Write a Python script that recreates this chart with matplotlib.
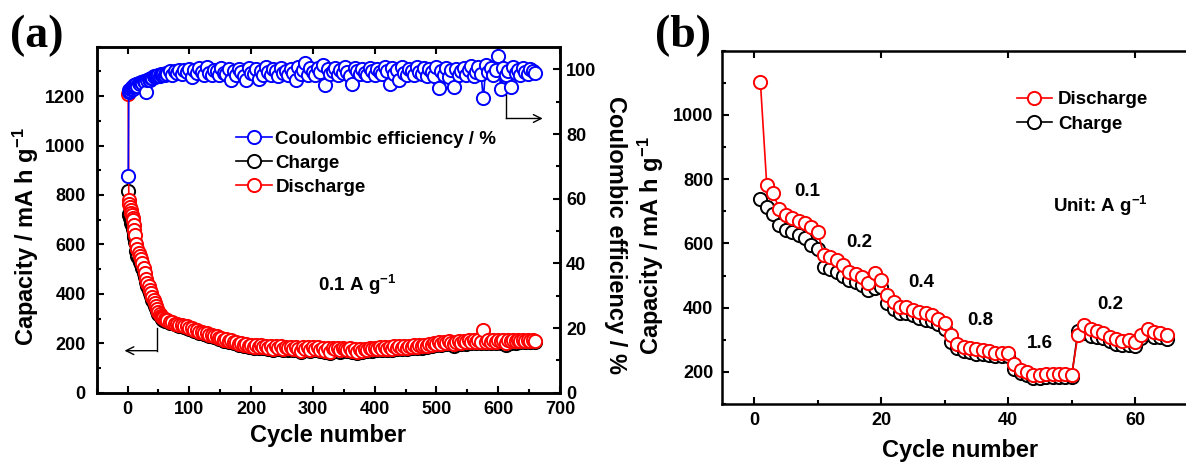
import matplotlib
matplotlib.use('Agg')
import matplotlib.pyplot as plt
from matplotlib.ticker import MultipleLocator
from matplotlib.lines import Line2D

plt.rcParams['font.family'] = ['Liberation Sans', 'DejaVu Sans']
plt.rcParams['font.weight'] = 'bold'
plt.rcParams['axes.labelweight'] = 'bold'
plt.rcParams['mathtext.default'] = 'regular'

# ---- panel (a): long cycling at 0.1 A/g ----
cycles_a = list(range(1, 13)) + list(range(14, 63, 2)) + list(range(64, 661, 4))

discharge_a = [1210, 780, 765, 752, 740, 728, 718, 708, 698, 680, 660, 640,
               600, 580, 565, 552, 540, 525, 505, 485, 462, 445, 430, 415, 402,
               388, 375, 362, 350, 338, 328, 320, 312, 306, 301, 297, 295,
               294, 288, 287, 280, 280, 274, 274, 268, 268, 262,
               262, 255, 254, 247, 247, 240, 240, 234, 234, 228,
               229, 221, 223, 215, 217, 209, 212, 204, 206, 198,
               202, 194, 198, 190, 195, 186, 193, 185, 192, 183,
               190, 182, 189, 178, 188, 180, 187, 176, 186, 179,
               186, 175, 185, 178, 170, 184, 176, 185, 172, 183,
               177, 184, 172, 182, 170, 181, 166, 180, 175, 182,
               171, 180, 176, 172, 181, 170, 178, 164, 176, 168,
               178, 172, 180, 175, 182, 176, 183, 178, 185, 177,
               186, 178, 187, 180, 188, 181, 189, 182, 190, 184,
               191, 185, 193, 187, 195, 190, 198, 193, 201, 196,
               204, 199, 206, 201, 208, 202, 196, 204, 210, 203,
               211, 204, 212, 205, 212, 206, 213, 207, 255, 205,
               213, 206, 214, 207, 214, 208, 214, 200, 215, 208,
               215, 208, 215, 209, 215, 209, 215, 209, 214, 210]

charge_a = [815, 725, 718, 705, 698, 688, 680, 670, 662, 645, 628, 610,
            572, 555, 542, 530, 519, 505, 486, 467, 446, 430, 416, 402, 390,
            377, 364, 352, 341, 330, 320, 313, 305, 300, 295, 291, 289,
            289, 283, 282, 276, 275, 270, 269, 264, 263, 258,
            257, 251, 249, 243, 242, 236, 235, 230, 229, 224,
            224, 217, 218, 211, 212, 205, 207, 200, 201, 194,
            197, 190, 193, 186, 190, 182, 188, 180, 187, 179,
            185, 178, 184, 174, 183, 175, 182, 172, 181, 174,
            181, 171, 180, 173, 166, 179, 171, 180, 168, 178,
            172, 179, 167, 177, 165, 176, 162, 175, 170, 177,
            166, 175, 171, 167, 176, 165, 173, 160, 171, 163,
            173, 167, 175, 170, 177, 171, 178, 173, 180, 172,
            181, 173, 182, 175, 183, 176, 184, 177, 185, 179,
            186, 180, 188, 182, 190, 185, 193, 188, 196, 191,
            199, 194, 201, 196, 203, 197, 188, 199, 205, 198,
            206, 199, 207, 200, 207, 201, 208, 202, 232, 200,
            208, 201, 209, 202, 209, 203, 209, 195, 210, 203,
            210, 203, 210, 204, 210, 204, 210, 204, 209, 205]

ce_a = [67.0, 93.0, 93.6, 93.3, 94.0, 93.8, 94.4, 93.9, 94.6, 94.8, 95.2, 94.9,
        95.4, 95.0, 95.8, 95.5, 96.2, 95.9, 96.5, 96.0, 93.0, 96.8, 97.0, 96.7, 97.4,
        97.2, 97.8, 97.5, 98.0, 97.8, 98.3, 98.0, 98.5, 98.2, 98.6, 98.4, 98.8,
        98.6, 99.4, 98.2, 99.6, 98.8, 99.9, 98.5, 99.7, 99.1, 100.2,
        97.6, 99.8, 98.9, 100.4, 99.3, 98.4, 100.6, 99.0, 98.3, 99.9,
        99.4, 98.2, 100.3, 99.0, 98.6, 100.1, 96.8, 99.5, 98.3, 100.0,
        99.2, 97.9, 96.8, 100.5, 99.0, 98.5, 100.2, 96.9, 99.4, 98.1,
        100.6, 99.1, 98.4, 100.0, 99.5, 97.8, 100.4, 98.9, 99.6, 98.3,
        100.2, 99.0, 96.6, 100.7, 98.6, 99.8, 101.9, 98.2, 100.3, 99.1,
        98.4, 100.5, 99.3, 101.3, 95.2, 100.0, 98.7, 99.6, 100.4, 98.2,
        99.8, 98.9, 100.6, 99.2, 98.0, 95.6, 100.3, 99.4, 98.6, 100.1,
        99.0, 98.3, 100.5, 99.6, 98.1, 100.2, 99.3, 98.7, 100.8, 99.5,
        95.6, 100.4, 98.5, 99.9, 96.7, 100.6, 99.0, 98.3, 100.2, 99.4,
        98.2, 100.8, 99.3, 98.6, 100.4, 97.9, 100.1, 99.2, 98.0, 100.6,
        94.2, 99.6, 98.1, 100.5, 97.6, 99.8, 94.6, 100.2, 98.4, 99.5,
        100.4, 98.2, 99.7, 100.9, 98.0, 99.3, 100.6, 98.5, 91.0, 101.4,
        99.1, 100.3, 98.4, 99.8, 104.0, 94.0, 100.5, 98.2, 99.6, 94.6,
        100.6, 98.8, 99.9, 98.3, 100.4, 99.2, 98.6, 100.1, 99.4, 98.9]

# ---- panel (b): rate capability ----
cycles_b = list(range(1, 66))
discharge_b = [1102, 782, 756, 706, 688, 678, 671, 662, 652, 636,
               564, 558, 548, 532, 512, 506, 496, 477, 509, 486,
               439, 418, 403, 403, 394, 387, 382, 377, 366, 353,
               314, 288, 278, 275, 270, 268, 265, 260, 260, 260,
               226, 205, 200, 190, 190, 193, 193, 193, 193, 190,
               314, 345, 332, 327, 322, 309, 301, 297, 299, 294,
               316, 335, 325, 322, 316]
charge_b = [737, 712, 693, 657, 642, 636, 626, 616, 595, 584,
            527, 519, 512, 498, 486, 481, 470, 455, 462, 465,
            413, 397, 382, 382, 377, 369, 363, 359, 348, 335,
            294, 273, 265, 262, 257, 255, 252, 249, 249, 249,
            210, 197, 190, 182, 182, 184, 184, 184, 184, 183,
            328, 320, 312, 310, 306, 296, 288, 284, 285, 282,
            305, 318, 310, 308, 302]
rate_labels = ['0.1', '0.2', '0.4', '0.8', '1.6', '0.2']
rate_pos = [(8.3, 762), (16.6, 604), (26.4, 478), (35.6, 359), (45.0, 289), (56.1, 409)]

W, H = 1186, 466
fig = plt.figure(figsize=(W / 100, H / 100), dpi=100)

MS = 9.5
MEW = 1.4
SPW = 1.8
TICK = 13


def style_axis(ax):
    for s in ax.spines.values():
        s.set_linewidth(SPW)
    ax.tick_params(which='both', direction='in', width=1.5, labelsize=TICK)
    ax.tick_params(which='major', length=5)
    ax.tick_params(which='minor', length=3)


# ------------------------- panel (a) -------------------------
ax1 = fig.add_axes([96.7 / W, 1 - 392.7 / H, (560 - 96.7) / W, (392.7 - 46.7) / H])
ax2 = ax1.twinx()

ax1.plot(cycles_a, charge_a, '-o', color='black', ms=MS, mfc='white', mew=MEW, lw=1.2)
ax1.plot(cycles_a, discharge_a, '-o', color='red', ms=MS, mfc='white', mew=MEW, lw=1.2)
ax2.plot(cycles_a, ce_a, '-o', color='blue', ms=MS, mfc='white', mew=MEW, lw=1.2)

ax1.set_xlim(-50, 700)
ax1.set_ylim(0, 1400)
ax2.set_ylim(0, 107)
ax1.xaxis.set_major_locator(MultipleLocator(100))
ax1.xaxis.set_minor_locator(MultipleLocator(50))
ax1.yaxis.set_minor_locator(MultipleLocator(100))
ax1.set_yticks([0, 200, 400, 600, 800, 1000, 1200])
ax2.yaxis.set_minor_locator(MultipleLocator(10))
ax2.set_yticks([0, 20, 40, 60, 80, 100])

style_axis(ax1)
style_axis(ax2)
ax1.tick_params(top=True, right=False)
ax1.tick_params(axis='x', pad=6)
ax1.tick_params(axis='y', pad=8)
ax2.tick_params(axis='y', pad=4.5)

ax1.set_xlabel('Cycle number', fontsize=17)
ax1.xaxis.set_label_coords(0.5, -0.09)
ax1.set_ylabel('Capacity / mA h g$^{-1}$', fontsize=17)
ax1.yaxis.set_label_coords(-0.12, 0.45)
ax2.set_ylabel('Coulombic efficiency / %', fontsize=17, rotation=270, va='bottom')
ax2.yaxis.set_label_coords(1.095, 0.456)

ax1.text(371, 435, '0.1 A g$^{-1}$', fontsize=13.5, ha='center', va='center')

# arrows pointing to each y axis
ax1.plot([48, 48], [262, 170], color='black', lw=1)
ax1.annotate('', xy=(-5, 170), xytext=(48, 170),
             arrowprops=dict(arrowstyle='->', lw=1, color='black', mutation_scale=14,
                             shrinkA=0, shrinkB=0))
ax2.plot([613, 613], [92, 84.8], color='black', lw=1)
ax2.annotate('', xy=(672, 84.8), xytext=(613, 84.8),
             arrowprops=dict(arrowstyle='->', lw=1, color='black', mutation_scale=14,
                             shrinkA=0, shrinkB=0))

hdl_a = [Line2D([], [], color=c, marker='o', ms=MS, mfc='white', mew=MEW, lw=1.2)
         for c in ('blue', 'black', 'red')]
ax2.legend(hdl_a, ['Coulombic efficiency / %', 'Charge', 'Discharge'],
           loc='upper left', bbox_to_anchor=(0.3007, 0.758), frameon=False,
           fontsize=13.5, handlelength=1.9, handletextpad=0.2, labelspacing=0.37,
           borderpad=0, borderaxespad=0)

# ------------------------- panel (b) -------------------------
axb = fig.add_axes([722.3 / W, 1 - 404 / H, 476.3 / W, (404 - 50.7) / H])
axb.plot(cycles_b, charge_b, '-o', color='black', ms=MS, mfc='white', mew=MEW, lw=1.2)
axb.plot(cycles_b, discharge_b, '-o', color='red', ms=MS, mfc='white', mew=MEW, lw=1.2)
axb.set_xlim(-5, 70)
axb.set_ylim(100, 1200)
axb.xaxis.set_major_locator(MultipleLocator(20))
axb.xaxis.set_minor_locator(MultipleLocator(10))
axb.yaxis.set_minor_locator(MultipleLocator(100))
axb.set_yticks([200, 400, 600, 800, 1000])
style_axis(axb)
axb.tick_params(top=True, right=True)
axb.tick_params(axis='x', pad=6)
axb.tick_params(axis='y', pad=6.5)

axb.set_xlabel('Cycle number', fontsize=17)
axb.xaxis.set_label_coords(0.5, -0.098)
axb.set_ylabel('Capacity / mA h g$^{-1}$', fontsize=17)
axb.yaxis.set_label_coords(-0.118, 0.447)

for lab, (cx, cy) in zip(rate_labels, rate_pos):
    axb.text(cx, cy, lab, fontsize=13.5, ha='center', va='center')
axb.text(54.5, 716, 'Unit: A g$^{-1}$', fontsize=13.5, ha='center', va='center')

hdl_b = [Line2D([], [], color=c, marker='o', ms=MS, mfc='white', mew=MEW, lw=1.2)
         for c in ('red', 'black')]
axb.legend(hdl_b, ['Discharge', 'Charge'], loc='upper left',
           bbox_to_anchor=(0.618, 0.885), frameon=False, fontsize=13.5,
           handlelength=1.9, handletextpad=0.3, labelspacing=0.37,
           borderpad=0, borderaxespad=0)

# panel letters
fig.text(10 / W, 1 - 36 / H, '(a)', family=['Liberation Serif', 'DejaVu Serif'],
         weight='bold', fontsize=33, va='center', ha='left')
fig.text(655 / W, 1 - 36 / H, '(b)', family=['Liberation Serif', 'DejaVu Serif'],
         weight='bold', fontsize=33, va='center', ha='left')

fig.savefig('out.png', dpi=100)
